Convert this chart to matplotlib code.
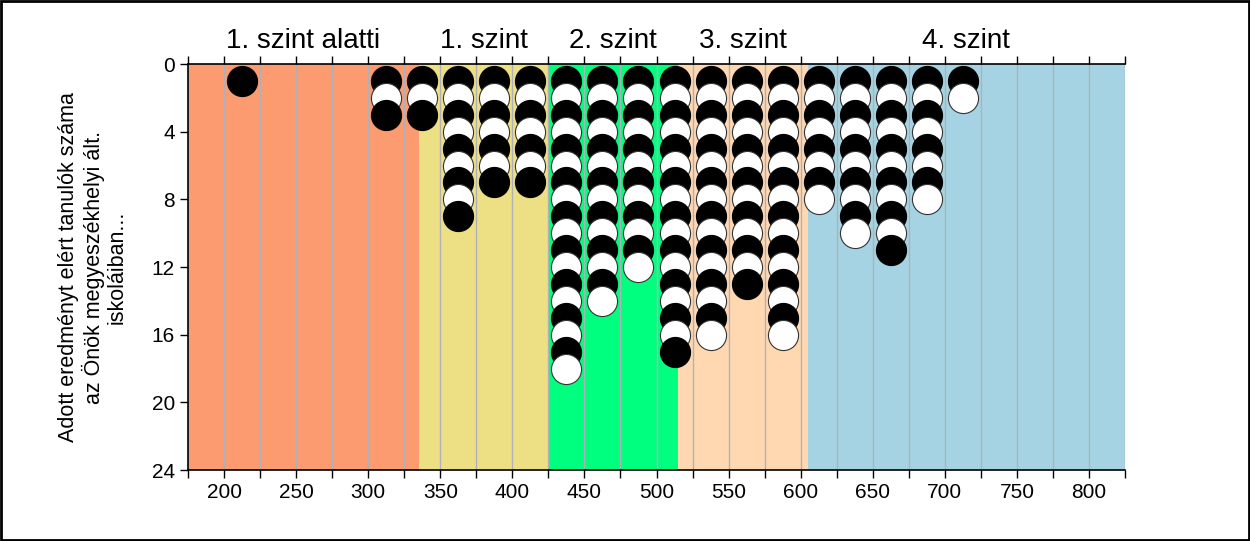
import matplotlib
matplotlib.use("Agg")
import matplotlib.pyplot as plt
from matplotlib.patches import Rectangle

plt.rcParams['font.family'] = ['Liberation Sans', 'DejaVu Sans']

# pontszám oszlopok és tanulók száma
scores = [212.5, 312.5, 337.5, 362.5, 387.5, 412.5, 437.5, 462.5, 487.5,
          512.5, 537.5, 562.5, 587.5, 612.5, 637.5, 662.5, 687.5, 712.5]
counts = [1, 3, 3, 9, 7, 7, 18, 14, 12, 17, 16, 13, 16, 8, 10, 11, 8, 2]

# szintek sávjai
level_names = ["1. szint alatti", "1. szint", "2. szint", "3. szint", "4. szint"]
level_edges = [175, 335, 425, 515, 605, 825]
level_colors = ["#FC9A70", "#EDE084", "#00FF7F", "#FFD8B2", "#A6D3E3"]

fig = plt.figure(figsize=(12.5, 5.41), dpi=100)
ax = fig.add_axes([0.1504, 0.1312, 0.7496, 0.7505])

for i in range(len(level_names)):
    ax.axvspan(level_edges[i], level_edges[i + 1], color=level_colors[i], zorder=0, lw=0)
    ax.text((level_edges[i] + level_edges[i + 1]) / 2, 1.025, level_names[i],
            transform=ax.get_xaxis_transform(), ha='center', va='bottom', fontsize=20)

for gx in range(175, 826, 25):
    ax.axvline(gx, color='#B0B0B8', lw=1, zorder=1)

z = 2
for x, n in zip(scores, counts):
    for k in range(1, n + 1):
        if k % 2 == 1:
            ax.scatter(x, k, s=470, c='black', edgecolors='black', linewidths=0.8, zorder=z)
        else:
            ax.scatter(x, k, s=470, c='white', edgecolors='#333333', linewidths=0.8, zorder=z)
        z += 1

ax.set_xlim(175, 825)
ax.set_ylim(24, 0)
ax.set_xticks(range(200, 801, 50))
ax.set_xticks(range(175, 826, 25), minor=True)
ax.set_yticks(range(0, 25, 4))
ax.tick_params(axis='both', labelsize=15, direction='out', length=6, width=1)
ax.tick_params(axis='x', which='minor', length=6, width=1)
ax.tick_params(axis='x', which='both', top=True)
ax.spines['right'].set_visible(False)
for s in ['left', 'bottom', 'top']:
    ax.spines[s].set_linewidth(1.2)

ax.set_ylabel("Adott eredményt elért tanulók száma\naz Önök megyeszékhelyi ált.\niskoláiban...",
              fontsize=15.5, linespacing=1.15)
ax.yaxis.set_label_coords(-0.064, 0.5)

fig.patches.append(Rectangle((0.001, 0.002), 0.998, 0.996, transform=fig.transFigure,
                             fill=False, edgecolor='black', lw=2))

fig.savefig("out.png", dpi=100)
